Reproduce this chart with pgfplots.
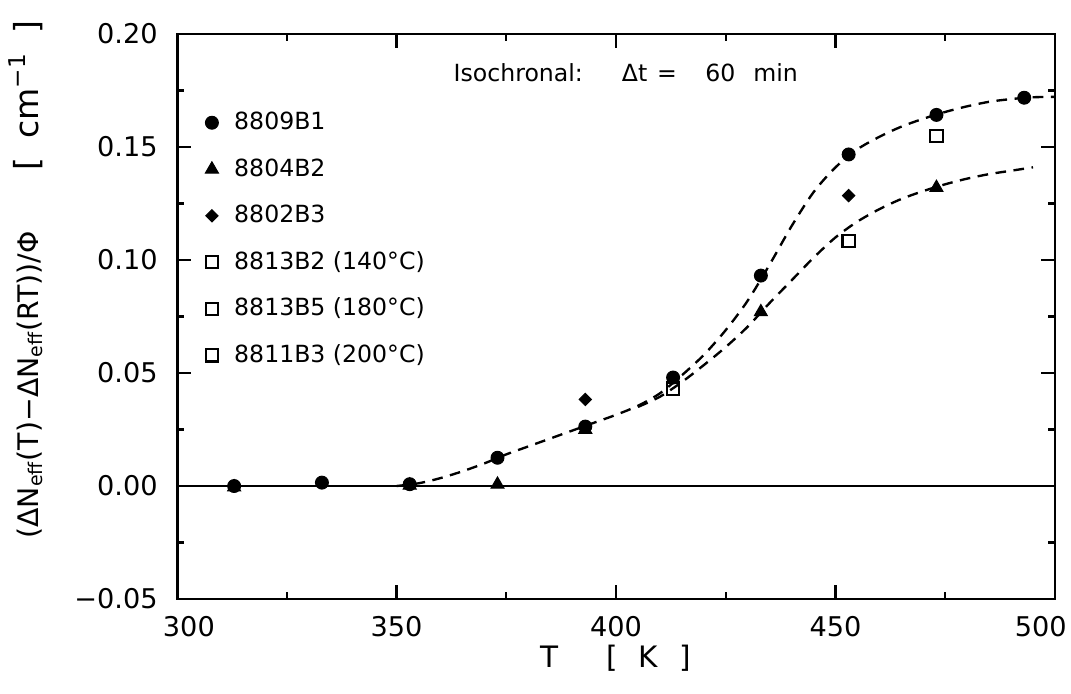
\documentclass[border=0pt]{standalone}
\usepackage{fontspec}
\setmainfont{DejaVu Sans}
\usepackage{pgfplots}
\pgfplotsset{compat=1.18}
\pgfplotsset{
  legimg/.style={legend image code/.code={\path (-3pt,0pt) (8pt,0pt); \draw[##1] plot coordinates {(0pt,0pt)};}},
}
\begin{document}
\begin{tikzpicture}
\begin{axis}[
  name=ax,
  scale only axis,
  width=371.8pt, height=239.3pt,
  xmin=300, xmax=500, ymin=-0.05, ymax=0.20,
  xtick={300,350,400,450,500},
  xticklabels={\hspace{10pt}300,350,400,450,\hspace{-12pt}500},
  ytick={-0.05,0,0.05,0.10,0.15,0.20},
  yticklabels={−0.05,0.00,0.05,0.10,0.15,0.20},
  minor x tick num=1, minor y tick num=1,
  major tick length=6pt, minor tick length=3pt,
  axis line style={line width=1.2pt},
  every tick/.style={black, line width=0.9pt},
  xticklabel style={font=\fontsize{11.5}{13}\selectfont, yshift=-4pt},
  yticklabel style={font=\fontsize{11.5}{13}\selectfont, xshift=-4.7pt},
  xlabel={T\hspace{20pt}[\hspace{9pt}K\hspace{9pt}]},
  xlabel style={at={(rel axis cs:0.5,-0.104)}, anchor=center, font=\fontsize{12.5}{14}\selectfont},
  ylabel={(ΔN\textsubscript{eff}(T)−ΔN\textsubscript{eff}(RT))/Φ\hspace{26pt}{\fontsize{14}{16}\selectfont[\hspace{8pt}cm\textsuperscript{−1}\hspace{8pt}]}},
  ylabel style={at={(rel axis cs:-0.172,0.565)}, anchor=center, font=\fontsize{12}{14}\selectfont},
  legend style={draw=none, fill=none, at={(rel axis cs:0.0304,0.868)}, anchor=north west,
    inner sep=0pt, outer sep=0pt, row sep=7.7pt, font=\fontsize{10}{12}\selectfont,
    nodes={inner sep=1pt, text height=8pt, text depth=2pt}},
  legend cell align=left,
  clip=false,
]
% zero line
\addplot[black, line width=1.2pt, forget plot] coordinates {(300,0) (500,0)};
% fitted curves (dashed)
\addplot[black, line width=1pt, dash pattern=on 4.5pt off 3.2pt, smooth, forget plot] coordinates {
(350,0.0) (355,0.0012) (360,0.0035) (365,0.0065) (370,0.0100) (375,0.0140) (380,0.0175)
(385,0.0210) (390,0.0245) (395,0.0280) (400,0.0315) (405,0.0355) (410,0.0410) (415,0.0490)
(420,0.0580) (425,0.0690) (430,0.0820) (435,0.0980) (440,0.1150) (445,0.1300) (450,0.1410)
(455,0.1490) (460,0.1545) (465,0.1590) (470,0.1625) (475,0.1655) (480,0.1680) (485,0.1700)
(490,0.1712) (495,0.1720) (500,0.1722)};
\addplot[black, line width=1pt, dash pattern=on 4.5pt off 3.2pt, smooth, forget plot] coordinates {
(405,0.0350) (410,0.0395) (415,0.0460) (420,0.0535) (425,0.0615) (430,0.0705) (435,0.0810)
(440,0.0910) (445,0.1010) (450,0.1100) (455,0.1170) (460,0.1225) (465,0.1270) (470,0.1305)
(475,0.1335) (480,0.1360) (485,0.1380) (490,0.1395) (495,0.1410)};
% data
\addplot[black, only marks, mark=*, mark size=2.75pt, legimg] coordinates {
(313,0.0) (333,0.0015) (353,0.0008) (373,0.0125) (393,0.0263) (413,0.048) (433,0.0931)
(453,0.1467) (473,0.1642) (493,0.1718)};
\addlegendentry{8809B1}
\addplot[black, only marks, mark=triangle*, mark size=3.2pt, legimg] coordinates {
(313,-0.0005) (353,0.0003) (373,0.0007) (393,0.025) (433,0.077) (473,0.132)};
\addlegendentry{8804B2}
\addplot[black, only marks, mark=square*, mark size=1.85pt, mark options={rotate=45}, legimg] coordinates {
(393,0.0383) (453,0.1285)};
\addlegendentry{8802B3}
\addplot[black, only marks, mark=square, mark size=2.6pt, line width=0.9pt, legimg] coordinates {
(413,0.0431)};
\addlegendentry{8813B2 (140°C)}
\addplot[black, only marks, mark=square, mark size=2.6pt, line width=0.9pt, legimg] coordinates {
(453,0.1083)};
\addlegendentry{8813B5 (180°C)}
\addplot[black, only marks, mark=square, mark size=2.6pt, line width=0.9pt, legimg] coordinates {
(473,0.1548)};
\addlegendentry{8811B3 (200°C)}
\node[anchor=base west, font=\fontsize{10}{12}\selectfont, inner sep=0pt] at (axis cs:362.9,0.1792)
  {Isochronal:\hspace{16.5pt}Δt\hspace{4.2pt}=\hspace{12pt}60\hspace{7.6pt}min};
\end{axis}
\pgfresetboundingbox
\path ([shift={(-75pt,-40.2pt)}]ax.south west) rectangle ([shift={(6.8pt,14.4pt)}]ax.north east);
\end{tikzpicture}
\end{document}
